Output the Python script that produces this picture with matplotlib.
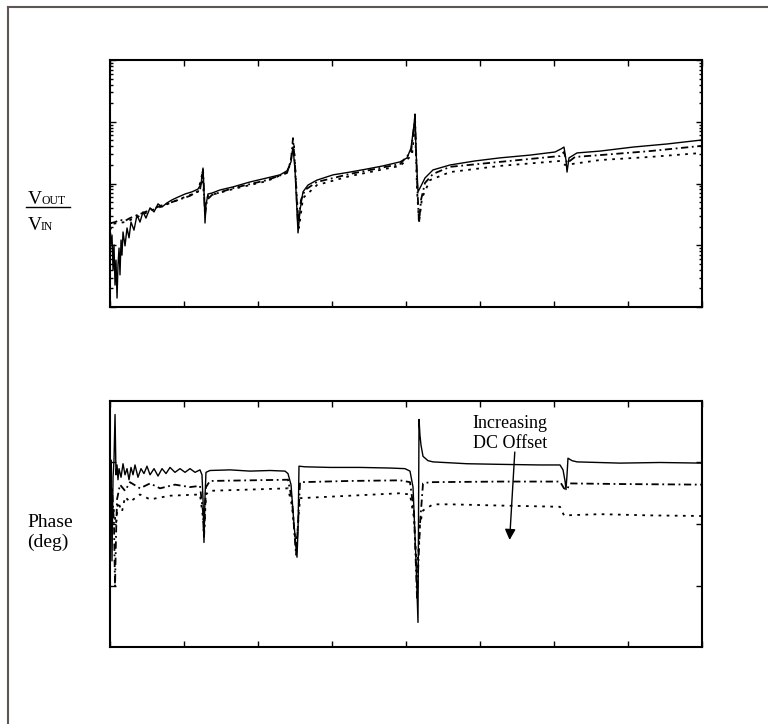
import matplotlib
matplotlib.use("Agg")
import matplotlib.pyplot as plt
from matplotlib.lines import Line2D
import numpy as np

plt.rcParams["font.family"] = ["Liberation Serif", "DejaVu Serif"]

# ---------------------------------------------------------------------------
# Data (x: frequency axis 0..8, gain in dB, phase in deg)
# ---------------------------------------------------------------------------

# magnitude, solid trace (lowest DC offset)
MAG_F_A = [0, 0.027, 0.041, 0.054, 0.068, 0.081, 0.095, 0.108, 0.122, 0.135,
           0.149, 0.162, 0.176, 0.203, 0.230, 0.257, 0.284, 0.324, 0.365, 0.405,
           0.446, 0.486, 0.541, 0.595, 0.649, 0.703, 0.770, 0.838, 0.919, 1.014,
           1.108, 1.189, 1.230, 1.257, 1.270, 1.284, 1.297, 1.324, 1.378, 1.486,
           1.662, 1.892, 2.122, 2.297, 2.392, 2.446, 2.473, 2.500, 2.541, 2.568,
           2.608, 2.676, 2.797, 3.014, 3.243, 3.473, 3.689, 3.919, 4.014, 4.068,
           4.108, 4.122, 4.135, 4.162, 4.203, 4.257, 4.365, 4.595, 4.932, 5.270,
           5.676, 6.014, 6.095, 6.135, 6.162, 6.176, 6.203, 6.311, 6.622, 7.068,
           7.527, 8.0]
MAG_DB_A = [18.5, 23.3, 12.0, 20.1, 7.1, 15.2, 2.9, 13.6, 19.1, 10.4,
            21.7, 16.8, 24.3, 19.8, 25.6, 22.4, 27.5, 24.9, 29.8, 27.5,
            30.8, 28.8, 32.1, 30.8, 33.4, 32.4, 33.7, 34.7, 35.6, 36.6,
            37.3, 38.2, 39.8, 45.0, 37.9, 27.2, 33.0, 36.6, 36.9, 37.9,
            38.9, 40.5, 41.8, 42.8, 44.1, 47.0, 51.8, 44.4, 24.0, 31.4,
            37.3, 39.5, 41.1, 42.8, 43.7, 44.7, 45.7, 47.0, 48.3, 51.5,
            59.0, 62.5, 50.9, 37.3, 39.2, 41.8, 44.4, 46.0, 47.3, 48.3,
            49.2, 50.2, 51.2, 51.8, 47.6, 43.7, 48.3, 49.9, 50.5, 51.8,
            52.8, 54.1]

# magnitude, dash-dot trace
MAG_F_B = [0, 0.014, 0.068, 0.135, 0.203, 0.270, 0.405, 0.541, 0.676, 0.878,
           1.081, 1.216, 1.257, 1.284, 1.311, 1.378, 1.662, 2.122, 2.392, 2.446,
           2.473, 2.500, 2.541, 2.581, 2.635, 2.797, 3.243, 3.919, 4.068, 4.122,
           4.149, 4.176, 4.203, 4.257, 4.365, 4.595, 5.270, 6.081, 6.135, 6.176,
           6.284, 6.622, 7.297, 8.0]
MAG_DB_B = [21.7, 27.2, 27.5, 28.2, 27.9, 28.8, 30.1, 31.4, 32.7, 34.3,
            36.0, 37.9, 44.4, 29.8, 34.7, 36.3, 38.5, 41.1, 43.4, 47.6,
            54.7, 46.0, 26.6, 34.7, 37.9, 40.5, 43.1, 46.3, 50.2, 61.2,
            41.1, 27.2, 34.7, 40.2, 43.1, 45.4, 47.0, 48.9, 50.2, 46.6,
            48.6, 49.2, 50.5, 52.2]

# magnitude, dotted trace (highest DC offset)
MAG_F_C = [0, 0.027, 0.108, 0.203, 0.338, 0.541, 0.743, 0.946, 1.189, 1.243,
           1.284, 1.324, 1.662, 2.122, 2.405, 2.459, 2.486, 2.527, 2.554, 2.608,
           2.797, 3.243, 3.919, 4.081, 4.122, 4.149, 4.176, 4.216, 4.324, 4.595,
           5.270, 6.081, 6.149, 6.622, 7.297, 8.0]
MAG_DB_C = [24.9, 26.9, 27.2, 27.5, 28.8, 31.1, 33.0, 35.0, 37.3, 42.8,
            33.0, 36.0, 38.2, 40.8, 43.7, 49.2, 52.5, 34.7, 25.6, 35.3,
            39.5, 42.4, 45.7, 49.2, 59.0, 37.9, 27.2, 35.3, 41.1, 43.7,
            45.7, 47.3, 46.0, 47.6, 48.6, 49.9]

# phase, solid trace
PH_F_A = [0, 0.014, 0.027, 0.041, 0.054, 0.068, 0.081, 0.095, 0.108, 0.122,
          0.149, 0.176, 0.203, 0.230, 0.257, 0.284, 0.311, 0.338, 0.378, 0.419,
          0.459, 0.500, 0.541, 0.595, 0.649, 0.703, 0.757, 0.811, 0.878, 0.946,
          1.014, 1.081, 1.149, 1.216, 1.243, 1.257, 1.270, 1.284, 1.297, 1.351,
          1.622, 1.892, 2.162, 2.365, 2.405, 2.446, 2.486, 2.527, 2.541, 2.554,
          2.635, 2.973, 3.378, 3.784, 3.986, 4.054, 4.095, 4.135, 4.162, 4.176,
          4.189, 4.203, 4.230, 4.297, 4.365, 4.824, 5.270, 5.811, 6.081, 6.122,
          6.149, 6.162, 6.176, 6.189, 6.243, 6.311, 6.892, 7.432, 8.0]
PH_DEG_A = [-75, -48, -130, -62, -48, -11, -60, -52, -64, -55,
            -62, -51, -60, -55, -64, -54, -60, -52, -62, -55,
            -59, -53, -60, -55, -61, -55, -59, -54, -58, -55,
            -58, -55, -58, -56, -60, -80, -115, -78, -58, -56.5,
            -56, -57, -56.5, -57, -59, -68, -100, -127, -105, -53,
            -53.5, -54, -54, -54.5, -55, -57, -70, -130, -180, -15,
            -28, -36, -45, -48.5, -49.5, -51, -51.5, -52, -52, -56,
            -65, -72, -60, -46.5, -48.5, -49.5, -50.5, -50, -50.5]

# phase, dash-dot trace
PH_F_B = [0, 0.027, 0.054, 0.068, 0.081, 0.095, 0.135, 0.203, 0.270, 0.405,
          0.541, 0.676, 0.878, 1.081, 1.216, 1.257, 1.270, 1.297, 1.351, 1.892,
          2.405, 2.459, 2.514, 2.541, 2.568, 3.243, 3.919, 4.054, 4.108, 4.149,
          4.189, 4.230, 4.324, 5.270, 6.081, 6.135, 6.176, 6.216, 6.892, 8.0]
PH_DEG_B = [-90, -70, -100, -151, -110, -80, -68, -73, -66, -71,
            -67, -71, -68, -70, -69, -90, -112, -70, -65, -64.5,
            -64, -80, -125, -100, -66, -65, -64.5, -66, -90, -160,
            -100, -67, -66, -65.5, -65.5, -71, -72, -67, -67.5, -68]

# phase, dotted trace
PH_F_C = [0, 0.041, 0.081, 0.108, 0.162, 0.203, 0.270, 0.405, 0.541, 0.811,
          1.216, 1.257, 1.270, 1.297, 1.351, 1.892, 2.405, 2.459, 2.514, 2.541,
          2.568, 3.243, 3.919, 4.054, 4.108, 4.149, 4.189, 4.230, 4.365, 4.595,
          5.270, 6.081, 6.135, 6.622, 7.297, 8.0]
PH_DEG_C = [-95, -85, -100, -82, -90, -78, -82, -76, -80, -77,
            -76, -95, -110, -76, -73, -72, -71, -85, -120, -100,
            -79, -77, -75, -76, -95, -140, -100, -89, -84, -84,
            -85, -86, -93, -92, -93, -93.5]

W, H = 768, 724
fig = plt.figure(figsize=(W / 100, H / 100), dpi=100)

STYLES = [
    dict(color="black", lw=1.0, ls="-"),
    dict(color="black", lw=1.3, ls=(0, (4, 2, 1, 2))),
    dict(color="black", lw=1.3, ls=(0, (1.5, 3))),
]


def setup(ax):
    ax.set_xlim(0, 8)
    ax.set_xticks(np.arange(0, 9))
    ax.tick_params(which="both", direction="in", top=True, right=True,
                   labelbottom=False, labelleft=False, width=1)
    ax.tick_params(which="major", length=4)
    ax.tick_params(which="minor", length=2.5)
    for s in ax.spines.values():
        s.set_linewidth(1.5)


# ---- magnitude panel -------------------------------------------------------
ax1 = fig.add_axes([110 / W, 1 - 307 / H, 592 / W, 247 / H])
for f, db, st in [(MAG_F_A, MAG_DB_A, STYLES[0]),
                  (MAG_F_B, MAG_DB_B, STYLES[1]),
                  (MAG_F_C, MAG_DB_C, STYLES[2])]:
    ax1.plot(f, 10 ** (np.array(db) / 20.0), **st)
ax1.set_yscale("log")
ax1.set_ylim(1, 1e4)
setup(ax1)
ax1.xaxis.set_minor_locator(matplotlib.ticker.NullLocator())

# ---- phase panel -----------------------------------------------------------
ax2 = fig.add_axes([110 / W, 1 - 647 / H, 592 / W, 246 / H])
for f, ph, st in [(PH_F_A, PH_DEG_A, STYLES[0]),
                  (PH_F_B, PH_DEG_B, STYLES[1]),
                  (PH_F_C, PH_DEG_C, STYLES[2])]:
    ax2.plot(f, ph, **st)
ax2.set_ylim(-200, 0)
ax2.set_yticks([-150, -100, -50])
setup(ax2)

ax2.annotate("", xy=(5.40, -113), xytext=(5.47, -41.5),
             arrowprops=dict(arrowstyle="-|>", mutation_scale=16, lw=1.0,
                             color="black", shrinkA=0, shrinkB=0))
ax2.text(5.41, -22, "Increasing", ha="center", va="baseline", fontsize=13)
ax2.text(5.41, -38.2, "DC Offset", ha="center", va="baseline", fontsize=13)

# ---- left labels -----------------------------------------------------------
def fx(px):
    return px / W


def fy(py):
    return 1 - py / H


fig.text(fx(28), fy(204), "V", fontsize=14, va="baseline", ha="left")
fig.text(fx(41), fy(204), "OUT", fontsize=8.5, va="baseline", ha="left")
fig.text(fx(28), fy(230), "V", fontsize=14, va="baseline", ha="left")
fig.text(fx(41), fy(230), "IN", fontsize=8.5, va="baseline", ha="left")
fig.add_artist(Line2D([fx(26), fx(70)], [fy(207), fy(207)], color="black", lw=1.0))

fig.text(fx(27), fy(527), "Phase", fontsize=14, va="baseline", ha="left")
fig.text(fx(27), fy(547), "(deg)", fontsize=14, va="baseline", ha="left")

# ---- outer frame (left and top edges visible) ------------------------------
frame = "#5f5552"
fig.add_artist(Line2D([fx(8), fx(8)], [fy(7), 0], color=frame, lw=1.5))
fig.add_artist(Line2D([fx(8), 1], [fy(7), fy(7)], color=frame, lw=1.5))

fig.savefig("out.png", dpi=100)
